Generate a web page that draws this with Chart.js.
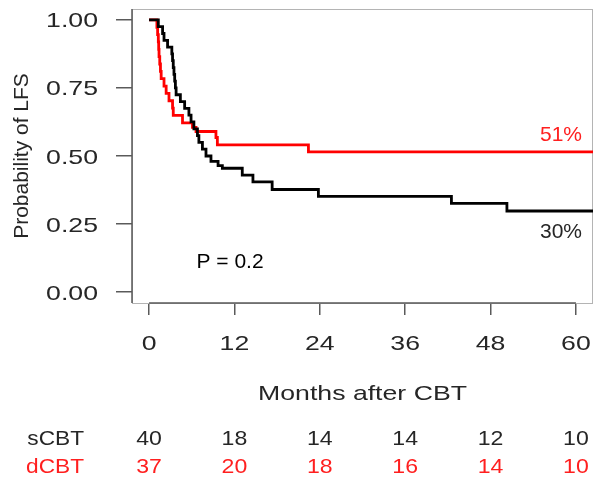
<!DOCTYPE html>
<html>
<head>
<meta charset="utf-8">
<script src="https://cdn.jsdelivr.net/npm/chart.js@4.4.1/dist/chart.umd.min.js"></script>
<style>
    body { margin: 0; background: #ffffff; }
    #grafico { display: block; }
</style>
</head>
<body>
<canvas id="grafico" width="604" height="481"></canvas>
<script>
// dados (meses, probabilidade)
const mesesSCBT = [0, 1.3, 1.9, 2.1, 2.6, 3.2, 3.3, 3.4, 3.5, 3.6, 3.7, 3.8, 4.4, 5.0, 5.6, 5.9, 6.3, 6.8, 7.0, 7.5, 8.0, 8.7, 9.7, 10.3, 13.1, 14.6, 17.3, 23.8, 42.5, 50.3, 62.4];
const probSCBT = [1, 0.975, 0.95, 0.925, 0.9, 0.875, 0.85, 0.825, 0.8, 0.775, 0.75, 0.725, 0.7, 0.675, 0.65, 0.625, 0.6, 0.575, 0.55, 0.525, 0.5, 0.48, 0.465, 0.455, 0.43, 0.405, 0.377, 0.352, 0.326, 0.298, 0.298];

const mesesDCBT = [0, 1.1, 1.2, 1.3, 1.35, 1.4, 1.5, 1.6, 1.7, 2.1, 2.4, 2.8, 3.3, 3.4, 4.7, 6.1, 6.6, 9.4, 9.6, 22.4, 62.4];
const probDCBT = [1, 0.973, 0.946, 0.919, 0.892, 0.865, 0.838, 0.811, 0.784, 0.757, 0.73, 0.703, 0.676, 0.649, 0.622, 0.605, 0.59, 0.568, 0.541, 0.515, 0.515];

const ticksX = [0, 12, 24, 36, 48, 60];
const ticksY = [0, 0.25, 0.5, 0.75, 1];

// numeros em risco
const grupos = ['sCBT', 'dCBT'];
const emRiscoSCBT = [40, 18, 14, 14, 12, 10];
const emRiscoDCBT = [37, 20, 18, 16, 14, 10];

const cores = {
    preto: '#000000',
    vermelho: '#ff0000',
    textoVermelho: '#ff1f1f',
    texto: '#262626',
    eixo: '#5a5a5a',
    caixa: '#b4b4b4'
};

const fonte = "'Liberation Sans', Arial, sans-serif";

function texto(ctx, str, x, y, cor, alinhamento, escalaX) {
    ctx.save();
    ctx.translate(x, y);
    ctx.scale(escalaX || 1, 1);
    ctx.font = `21px ${fonte}`;
    ctx.fillStyle = cor;
    ctx.textAlign = alinhamento || 'center';
    ctx.textBaseline = 'alphabetic';
    ctx.fillText(str, 0, 0);
    ctx.restore();
}

const desenhoExtra = {
    id: 'desenhoExtra',
    beforeDatasetsDraw(chart) {
        const { ctx, chartArea: a, scales } = chart;
        ctx.save();
        // caixa do grafico
        ctx.strokeStyle = cores.caixa;
        ctx.lineWidth = 1;
        ctx.strokeRect(a.left + 0.5, a.top + 0.5, a.right - a.left - 1, a.bottom - a.top);
        // linhas dos eixos
        ctx.strokeStyle = cores.eixo;
        ctx.lineWidth = 1.5;
        ctx.beginPath();
        ctx.moveTo(scales.x.getPixelForValue(ticksX[0]), a.bottom);
        ctx.lineTo(scales.x.getPixelForValue(ticksX[ticksX.length - 1]), a.bottom);
        ctx.moveTo(a.left, a.top);
        ctx.lineTo(a.left, a.bottom);
        ctx.stroke();
        ctx.restore();
    },
    afterDraw(chart) {
        const { ctx, scales } = chart;
        const x = scales.x;
        const y = scales.y;

        ticksY.forEach(v => texto(ctx, v.toFixed(2), 98, y.getPixelForValue(v) + 7.5, cores.texto, 'right', 1.27));
        ticksX.forEach(v => texto(ctx, String(v), x.getPixelForValue(v), 349.5, cores.texto, 'center', 1.27));

        const centroX = (x.getPixelForValue(ticksX[0]) + x.getPixelForValue(ticksX[ticksX.length - 1])) / 2;
        texto(ctx, 'Months after CBT', centroX, 400, cores.texto, 'center', 1.27);

        // titulo do eixo y
        ctx.save();
        ctx.translate(28, (y.getPixelForValue(0) + y.getPixelForValue(1)) / 2);
        ctx.rotate(-Math.PI / 2);
        ctx.font = `21px ${fonte}`;
        ctx.fillStyle = cores.texto;
        ctx.textAlign = 'center';
        ctx.textBaseline = 'alphabetic';
        ctx.fillText('Probability of LFS', 0, 0);
        ctx.restore();

        // anotacoes
        texto(ctx, '51%', 582, 140.5, cores.textoVermelho, 'right');
        texto(ctx, '30%', 582, 237.5, cores.texto, 'right');
        texto(ctx, 'P = 0.2', 196.5, 267.5, cores.preto, 'left');

        // tabela de numeros em risco
        texto(ctx, grupos[0], 84, 445, cores.texto, 'right', 1.08);
        texto(ctx, grupos[1], 84, 473, cores.textoVermelho, 'right', 1.08);
        ticksX.forEach((v, i) => {
            texto(ctx, String(emRiscoSCBT[i]), x.getPixelForValue(v), 445, cores.texto, 'center', 1.1);
            texto(ctx, String(emRiscoDCBT[i]), x.getPixelForValue(v), 473, cores.textoVermelho, 'center', 1.1);
        });
    }
};

const ctx = document.getElementById('grafico');

new Chart(ctx, {
    type: 'scatter',
    data: {
        datasets: [{
            label: 'sCBT',
            data: mesesSCBT.map((m, i) => ({ x: m, y: probSCBT[i] })),
            borderColor: cores.preto,
            borderWidth: 2.8,
            showLine: true,
            stepped: true,
            pointRadius: 0
        }, {
            label: 'dCBT',
            data: mesesDCBT.map((m, i) => ({ x: m, y: probDCBT[i] })),
            borderColor: cores.vermelho,
            borderWidth: 2.8,
            showLine: true,
            stepped: true,
            pointRadius: 0
        }]
    },
    options: {
        responsive: false,
        animation: false,
        layout: {
            padding: { top: 9, right: 11, left: 0, bottom: 0 }
        },
        plugins: {
            legend: { display: false },
            tooltip: { enabled: false }
        },
        scales: {
            x: {
                type: 'linear',
                min: -2.4,
                max: 62.4,
                afterBuildTicks: s => { s.ticks = ticksX.map(v => ({ value: v })); },
                afterFit: s => { s.height = 178; },
                ticks: { display: false },
                border: { display: false },
                grid: {
                    drawOnChartArea: false,
                    tickLength: 12,
                    color: cores.eixo,
                    lineWidth: 1.5
                }
            },
            y: {
                min: -0.04,
                max: 1.04,
                afterBuildTicks: s => { s.ticks = ticksY.map(v => ({ value: v })); },
                afterFit: s => { s.width = 132; },
                ticks: { display: false },
                border: { display: false },
                grid: {
                    drawOnChartArea: false,
                    tickLength: 16,
                    color: cores.eixo,
                    lineWidth: 1.5
                }
            }
        }
    },
    plugins: [desenhoExtra]
});
</script>
</body>
</html>
